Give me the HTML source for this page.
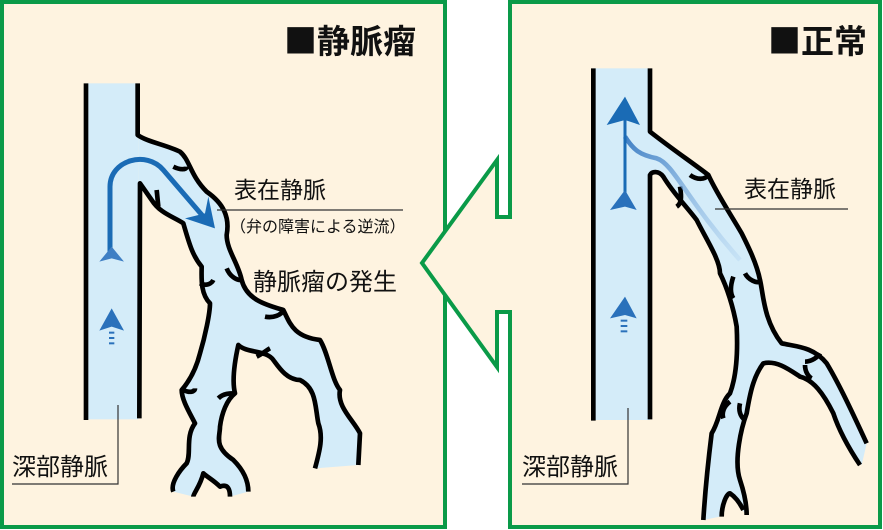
<!DOCTYPE html>
<html><head><meta charset="utf-8"><style>
html,body{margin:0;padding:0;background:#fff;}
svg{display:block;}
text{font-family:"Liberation Sans","Noto Sans CJK JP",sans-serif;fill:#111;}
.t{font-family:"Noto Sans CJK JP",sans-serif;}
</style></head><body>
<svg width="883" height="530" viewBox="0 0 883 530" xmlns="http://www.w3.org/2000/svg">
<defs>
<linearGradient id="g1" x1="0" y1="1" x2="0" y2="0">
<stop offset="0" stop-color="#1a6bb5" stop-opacity="0"/><stop offset="1" stop-color="#1a6bb5"/></linearGradient>
<linearGradient id="g2" x1="0" y1="0" x2="1" y2="1">
<stop offset="0" stop-color="#3f7fc4"/><stop offset="1" stop-color="#a9cdee" stop-opacity="0.3"/></linearGradient>
</defs>
<rect x="2" y="2" width="443" height="525" fill="#fef3e0" stroke="#0a9a48" stroke-width="4"/>
<rect x="510" y="2" width="370" height="525" fill="#fef3e0" stroke="#0a9a48" stroke-width="4"/>
<polygon points="512,217 497,217 497,160 422,263 497,367 497,312 512,312" fill="#fef3e0"/>
<polyline points="512,217 497,217 497,160 422,263 497,367 497,312 512,312" fill="none" stroke="#0a9a48" stroke-width="4"/>

<text class="t" x="284" y="53" font-size="33" font-weight="bold">■静脈瘤</text>
<text class="t" x="768" y="53" font-size="33" font-weight="bold">■正常</text>

<g transform="translate(0,60) scale(0.33333)">
<rect x="255" y="70" width="160" height="1008" fill="#d4ecf9"/>
<path d="M410,225 C440,245 500,255 540,275 C570,300 570,345 620,395 C670,430 690,470 680,525 C680,570 715,610 725,660 C740,720 800,735 850,750 C870,790 880,830 960,840 C985,880 995,960 1020,990 C1010,1040 1060,1080 1080,1120 L1075,1215 L945,1225 C960,1170 970,1130 955,1090 C945,1040 950,985 900,960 C860,960 835,920 820,900 C800,870 740,880 715,855 C705,900 695,960 705,1000 C680,1020 665,1060 660,1100 C660,1130 640,1160 700,1200 C730,1230 745,1260 745,1295 L690,1310 C690,1290 685,1270 660,1280 C640,1260 620,1250 610,1240 C600,1280 580,1300 580,1310 L520,1295 C510,1270 540,1230 560,1210 C575,1180 555,1130 585,1090 C570,1060 545,1020 545,990 C580,950 595,900 600,880 C615,830 630,760 630,730 C600,700 605,650 605,620 C580,590 570,560 550,490 C520,470 480,460 455,420 L420,370 L415,1078 L415,225 Z" fill="#d4ecf9"/>
<g fill="none" stroke="#000" stroke-width="14" stroke-linecap="butt" stroke-linejoin="round">
<line x1="258" y1="70" x2="258" y2="1080"/>
<path d="M413,70 L413,225 C440,245 500,255 540,275 C570,300 570,345 620,395 C670,430 690,470 680,525 C680,570 715,610 725,660 C740,720 800,735 850,750 C870,790 880,830 960,840 C985,880 995,960 1020,990 C1010,1040 1060,1080 1080,1120 L1075,1215"/>
<path d="M945,1225 C960,1170 970,1130 955,1090 C945,1040 950,985 900,960 C860,960 835,920 820,900 C800,870 740,880 715,855 C705,900 695,960 705,1000 C680,1020 665,1060 660,1100 C660,1130 640,1160 700,1200 C730,1230 745,1260 745,1295"/>
<path d="M690,1310 C690,1290 685,1270 660,1280 C640,1260 620,1250 610,1240 C600,1280 580,1300 580,1310"/>
<path d="M520,1295 C510,1270 540,1230 560,1210 C575,1180 555,1130 585,1090 C570,1060 545,1020 545,990 C580,950 595,900 600,880 C615,830 630,760 630,730 C600,700 605,650 605,620 C580,590 570,560 550,490 C520,470 480,460 455,420 L420,370 L418,1075"/>
<path d="M520,320 C540,330 560,330 560,320 M470,390 L475,440 M680,625 C690,650 710,660 720,660 M600,670 C620,680 635,670 640,660 M795,770 C820,775 845,765 850,750 M770,890 C790,880 800,870 810,865 M550,990 C570,1000 585,995 585,985 M655,1015 C670,1000 690,1000 705,1000"/>
</g>
<path d="M330,590 L330,380 C330,300 440,270 490,330 L610,470" fill="none" stroke="#1a6bb5" stroke-width="15"/>
<polygon points="645,505 555,475 615,460 625,410" fill="#1a6bb5"/>
<line x1="335" y1="800" x2="335" y2="560" stroke="url(#g1)" stroke-width="8"/>
<polygon points="335,560 298,605 335,595 372,605" fill="#3f7fc4"/>
<polygon points="335,745 298,812 335,800 372,812" fill="#2a71bb"/>
<g stroke="#2a71bb" stroke-width="6"><line x1="327" y1="818" x2="343" y2="818"/><line x1="327" y1="834" x2="343" y2="834"/><line x1="327" y1="850" x2="343" y2="850"/></g>
</g>

<g transform="translate(500,60) scale(0.33333)">
<rect x="280" y="25" width="170" height="1055" fill="#d4ecf9"/>
<path d="M450,215 C520,270 580,310 625,345 C650,400 690,460 725,520 C745,560 770,610 780,660 C790,700 790,780 845,850 C890,860 940,860 980,910 C1010,960 1040,1020 1100,1150 L1085,1215 C1050,1170 1020,1120 1000,1060 C970,1000 940,960 900,950 C870,930 830,900 790,910 C760,950 750,1000 740,1060 C725,1100 700,1200 720,1260 L740,1365 C700,1320 690,1300 690,1300 C665,1335 660,1370 660,1370 L610,1380 C615,1300 625,1200 635,1120 C660,1080 660,1030 690,1000 C705,960 715,900 710,800 C700,740 680,680 660,640 C660,600 620,540 590,480 C560,440 520,400 490,350 C475,330 455,335 450,340 Z" fill="#d4ecf9"/>
<g fill="none" stroke="#000" stroke-width="14" stroke-linejoin="round">
<line x1="280" y1="25" x2="280" y2="1082"/>
<path d="M450,25 L450,215 C520,270 580,310 625,345 C650,400 690,460 725,520 C745,560 770,610 780,660 C790,700 790,780 845,850 C890,860 940,860 980,910 C1010,960 1040,1020 1100,1150"/>
<path d="M1080,1215 C1050,1170 1020,1120 1000,1060 C970,1000 940,960 900,950 C870,930 830,900 790,910 C760,950 750,1000 740,1060 C725,1100 700,1200 720,1260 C730,1290 740,1330 740,1365"/>
<path d="M665,1370 C665,1335 680,1300 690,1300 C705,1310 720,1330 730,1350"/>
<path d="M610,1380 C615,1300 625,1200 635,1120 C660,1080 660,1030 690,1000 C705,960 715,900 710,800 C700,740 680,680 660,640 C660,600 620,540 590,480 C560,440 520,400 490,350 C475,330 455,335 450,345 L450,1078"/>
<path d="M570,345 C590,360 615,360 625,345 M540,380 C545,410 545,430 530,440 M735,640 C745,660 770,670 780,665 M700,650 C690,680 690,700 700,715 M915,905 C935,905 955,890 960,880 M915,915 C915,935 925,950 935,955 M690,1025 C670,1040 665,1060 670,1075 M720,1030 C715,1050 720,1070 735,1080"/>
</g>
<path d="M375,230 C400,270 420,285 470,295 C520,310 560,420 720,600" fill="none" stroke="url(#g2)" stroke-width="14"/>
<line x1="375" y1="700" x2="375" y2="130" stroke="url(#g1)" stroke-width="9"/>
<line x1="375" y1="400" x2="375" y2="130" stroke="#1a6bb5" stroke-width="9"/>
<polygon points="375,110 320,195 375,180 420,195" fill="#1a6bb5"/>
<polygon points="375,390 330,450 375,440 410,450" fill="#2a71bb"/>
<polygon points="375,710 330,775 375,765 410,775" fill="#2a71bb"/>
<g stroke="#2a71bb" stroke-width="6"><line x1="362" y1="782" x2="382" y2="782"/><line x1="362" y1="798" x2="382" y2="798"/><line x1="362" y1="814" x2="382" y2="814"/></g>
</g>

<text x="234" y="198" font-size="23">表在静脈</text>
<line x1="217" y1="210" x2="403" y2="210" stroke="#333" stroke-width="1.2"/>
<text x="230" y="232" font-size="16">（弁の障害による逆流）</text>
<text x="253" y="290" font-size="24">静脈瘤の発生</text>
<text x="12" y="475" font-size="24">深部静脈</text>
<polyline points="12,484 118,484 118,405" fill="none" stroke="#333" stroke-width="1.2"/>
<text x="744" y="197" font-size="23">表在静脈</text>
<line x1="715" y1="209" x2="848" y2="209" stroke="#333" stroke-width="1.2"/>
<text x="522" y="475" font-size="24">深部静脈</text>
<polyline points="522,484 628,484 628,408" fill="none" stroke="#333" stroke-width="1.2"/>
</svg>
</body></html>
